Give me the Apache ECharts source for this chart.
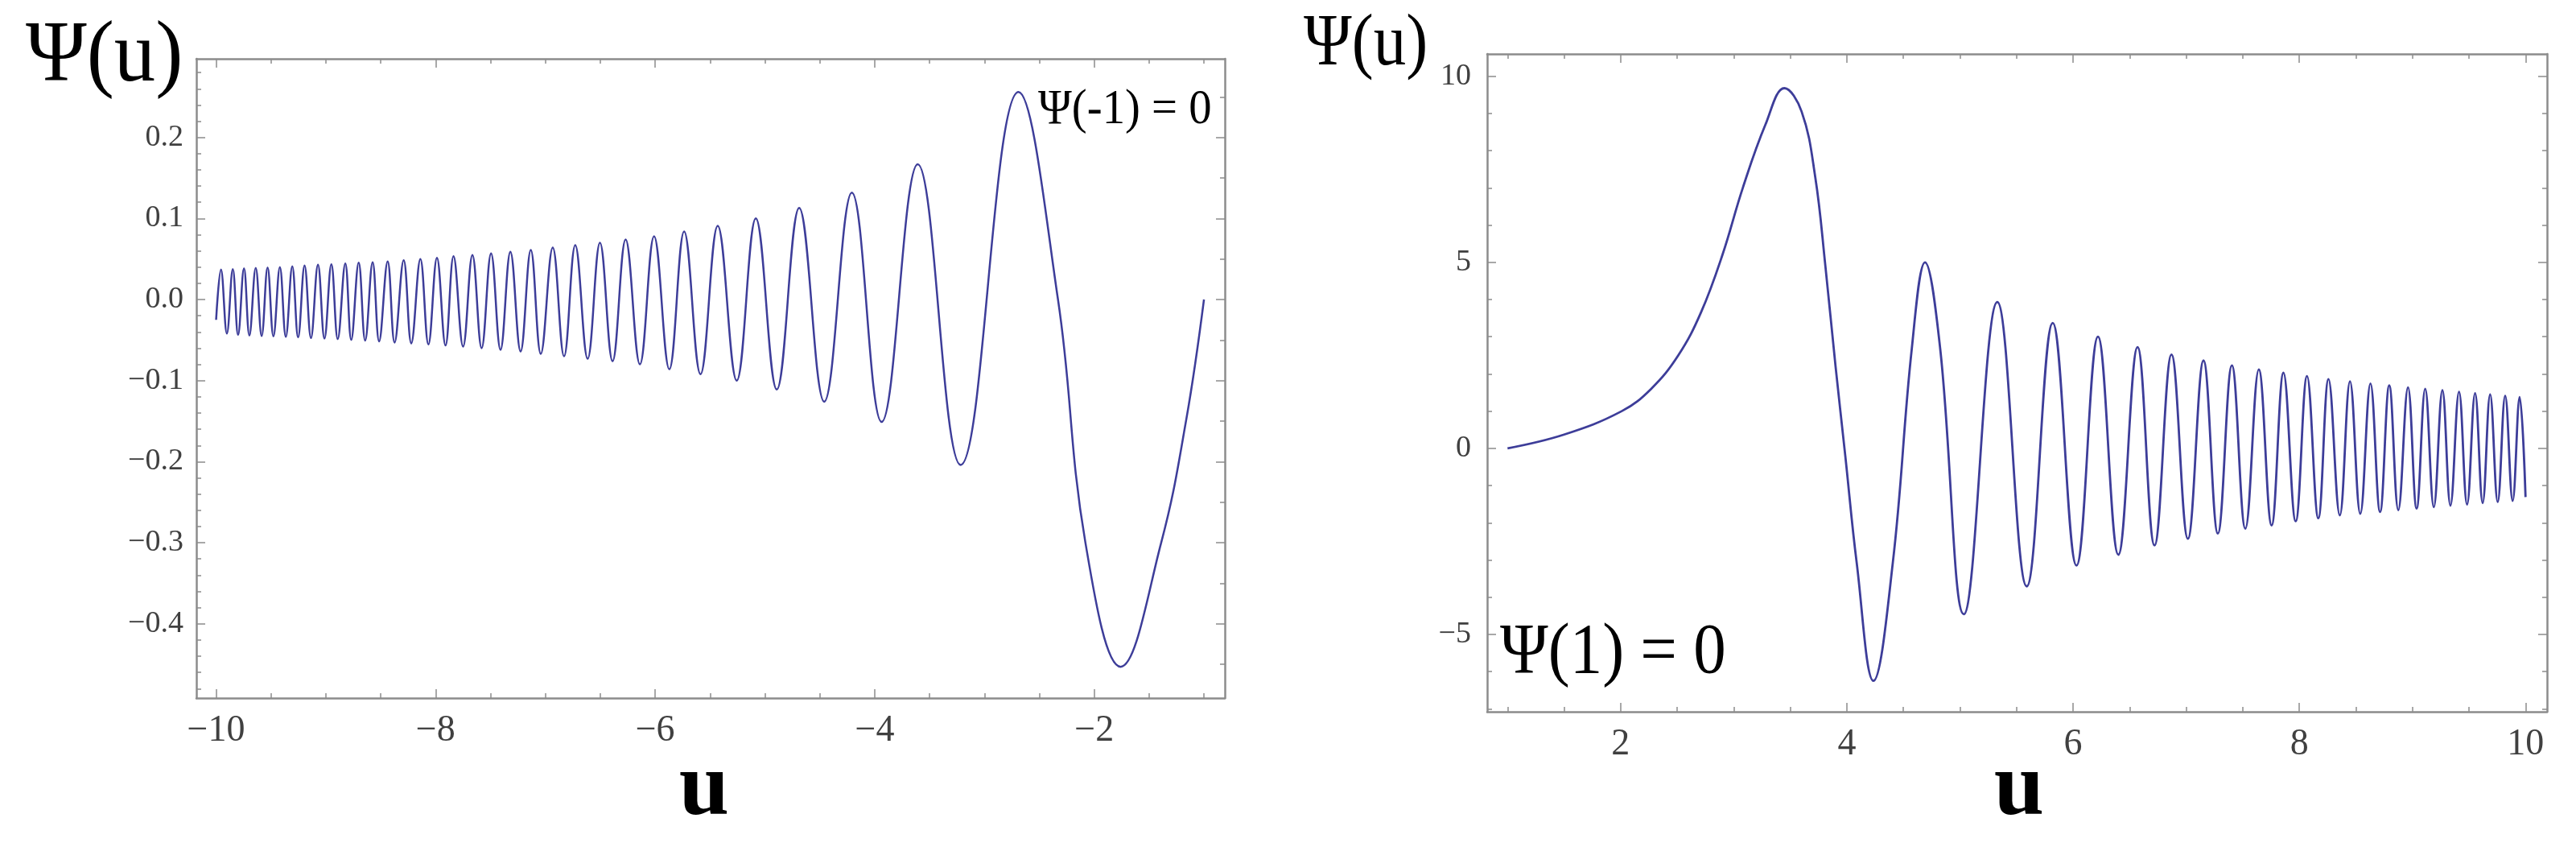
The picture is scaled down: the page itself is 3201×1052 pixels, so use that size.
<!DOCTYPE html>
<html>
<head>
<meta charset="utf-8">
<title>Ψ(u)</title>
<script src="https://cdn.jsdelivr.net/npm/echarts@6/dist/echarts.min.js"></script>
<style>
html, body { margin: 0; padding: 0; background: #fff; }
#chart { width: 3201px; height: 1052px; }
</style>
</head>
<body>
<div id="chart"></div>
<script>
// 左图 Ψ(-1)=0：起点、各个极值点，以及大摆幅上读到的几个点
const leftU = [
  -10.00, -9.956, -9.902, -9.848, -9.800, -9.746, -9.697, -9.639, -9.585, -9.531,
  -9.478, -9.419, -9.365, -9.306, -9.253, -9.194, -9.136, -9.072, -9.013, -8.950,
  -8.892, -8.823, -8.769, -8.701, -8.642, -8.574, -8.515, -8.437, -8.374, -8.291,
  -8.222, -8.139, -8.066, -7.988, -7.910, -7.837, -7.750, -7.665, -7.581, -7.495,
  -7.409, -7.319, -7.226, -7.133, -7.042, -6.933, -6.830, -6.728, -6.615, -6.503,
  -6.388, -6.269, -6.139, -6.010, -5.871, -5.736, -5.587, -5.430, -5.257, -5.083,
  -4.892, -4.688, -4.460, -4.208, -3.937, -3.608, -3.217, -2.690, -2.330, -2.080,
  -1.759, -1.390, -1.160, -1.000
]
const leftPsi = [
  -0.025, 0.037, -0.042, 0.0375, -0.0437, 0.0385, -0.0444, 0.039, -0.045, 0.0395,
  -0.0455, 0.040, -0.046, 0.041, -0.0467, 0.042, -0.0474, 0.043, -0.048, 0.0435,
  -0.0487, 0.0445, -0.0497, 0.0455, -0.0506, 0.046, -0.0516, 0.047, -0.053, 0.0485,
  -0.054, 0.050, -0.0553, 0.0515, -0.0566, 0.0533, -0.058, 0.055, -0.060, 0.057,
  -0.062, 0.059, -0.064, 0.061, -0.067, 0.064, -0.070, 0.067, -0.073, 0.070,
  -0.076, 0.074, -0.080, 0.078, -0.086, 0.084, -0.092, 0.091, -0.100, 0.100,
  -0.111, 0.113, -0.126, 0.132, -0.151, 0.167, -0.204, 0.256, 0.000, -0.300,
  -0.453, -0.300, -0.147, 0.000
]

// 右图 Ψ(1)=0
const rightU = [
  1.00, 1.50, 2.01, 2.27, 2.51, 2.71, 2.90, 3.08, 3.28, 3.448,
  3.60, 3.72, 3.81, 3.90, 3.986, 4.087, 4.235, 4.406, 4.574, 4.691,
  4.825, 5.034, 5.33, 5.59, 5.82, 6.03, 6.22, 6.40, 6.57, 6.72,
  6.87, 7.015, 7.153, 7.28, 7.404, 7.523, 7.642, 7.755, 7.86, 7.968,
  8.068, 8.168, 8.258, 8.358, 8.448, 8.539, 8.629, 8.714, 8.795, 8.875,
  8.961, 9.037, 9.113, 9.189, 9.265, 9.336, 9.412, 9.483, 9.554, 9.621,
  9.687, 9.754, 9.820, 9.886, 9.948, 10.00
]
const rightPsi = [
  0.00, 0.37, 1.00, 1.60, 2.50, 3.65, 5.20, 7.00, 8.70, 9.68,
  9.05, 7.30, 4.90, 2.20, -0.20, -3.08, -6.25, -3.08, 2.68, 5.00,
  2.68, -4.46, 3.93, -3.71, 3.37, -3.15, 3.00, -2.86, 2.72, -2.61,
  2.52, -2.43, 2.36, -2.29, 2.23, -2.16, 2.12, -2.07, 2.03, -1.96,
  1.94, -1.88, 1.86, -1.80, 1.80, -1.76, 1.74, -1.71, 1.69, -1.66,
  1.64, -1.62, 1.60, -1.58, 1.56, -1.54, 1.52, -1.51, 1.48, -1.47,
  1.45, -1.44, 1.41, -1.41, 1.38, -1.31
]

// 刻度
const leftXTicks = [-10, -8, -6, -4, -2]
const leftYTicks = [-0.4, -0.3, -0.2, -0.1, 0, 0.1, 0.2]
const rightXTicks = [2, 4, 6, 8, 10]
const rightYTicks = [-5, 0, 5, 10]

const steps = (from, to, step) => {
  const out = []
  for (let k = 0; from + k * step <= to + 1e-9; k++) out.push(+(from + k * step).toFixed(3))
  return out
}
const leftXMinor = steps(-10, -1, 0.5)
const leftYMinorL = steps(-0.48, 0.28, 0.02)
const leftYMinorR = steps(-0.45, 0.25, 0.05)
const rightXMinor = steps(1, 10, 0.5)
const rightYMinor = steps(-7, 10, 1)

const FRAME = '#8c8c8c'
const LINE = '#3d3d99'
const SERIF = '"Liberation Serif", "Times New Roman", serif'
const minus = s => String(s).replace('-', '\u2212')

// 一个方向上四根轴：主刻度+标签、次刻度、对边主刻度、对边次刻度
const frameAxes = (gridIndex, min, max, posA, posB, majors, minorA, minorB, fmt, fontSize, margin) => {
  const base = { type: 'value', gridIndex, min, max, splitLine: { show: false } }
  const tick = (values, length) => ({
    show: true, inside: true, length, customValues: values,
    lineStyle: { color: FRAME, width: 1.5 }
  })
  const line = { show: true, onZero: false, lineStyle: { color: FRAME, width: 2.5 } }
  const noLine = { show: false, onZero: false }
  return [
    {
      ...base, position: posA, axisLine: line, axisTick: tick(majors, 11),
      axisLabel: {
        show: true, customValues: majors, formatter: fmt, margin,
        fontSize, fontFamily: SERIF, color: '#404040'
      }
    },
    { ...base, position: posA, axisLine: noLine, axisTick: tick(minorA, 6), axisLabel: { show: false } },
    { ...base, position: posB, axisLine: line, axisTick: tick(majors, 11), axisLabel: { show: false } },
    { ...base, position: posB, axisLine: noLine, axisTick: tick(minorB, 6), axisLabel: { show: false } }
  ]
}

// 文字：x,y 为左上角，sx 为横向压缩
const textEl = (text, x, y, size, sx, extra) => ({
  type: 'text', x, y, scaleX: sx, scaleY: 1,
  style: Object.assign({
    text, font: size + 'px ' + SERIF, fill: '#000',
    textVerticalAlign: 'top', verticalAlign: 'top'
  }, extra || {})
})

const chart = echarts.init(document.getElementById('chart'))
const option = {
  animation: false,
  backgroundColor: '#fff',
  grid: [
    { left: 244, top: 73, width: 1278, height: 794 },
    { left: 1848, top: 67, width: 1317, height: 817 }
  ],
  xAxis: [
    ...frameAxes(0, -10.18, -0.81, 'bottom', 'top', leftXTicks, leftXMinor, leftXMinor,
      v => minus(v), 46, 18),
    ...frameAxes(1, 0.82, 10.19, 'bottom', 'top', rightXTicks, rightXMinor, rightXMinor,
      v => minus(v), 46, 18)
  ],
  yAxis: [
    ...frameAxes(0, -0.4916, 0.297, 'left', 'right', leftYTicks, leftYMinorL, leftYMinorR,
      v => minus(Number(v).toFixed(1)), 38, 16),
    ...frameAxes(1, -7.08, 10.6, 'left', 'right', rightYTicks, rightYMinor, rightYMinor,
      v => minus(v), 38, 20)
  ],
  series: [
    {
      type: 'line', xAxisIndex: 0, yAxisIndex: 0,
      data: leftU.map((u, i) => [u, leftPsi[i]]),
      smooth: 0.4, showSymbol: false, silent: true,
      lineStyle: { color: LINE, width: 2.5 }
    },
    {
      type: 'line', xAxisIndex: 4, yAxisIndex: 4,
      data: rightU.map((u, i) => [u, rightPsi[i]]),
      smooth: 0.4, showSymbol: false, silent: true,
      lineStyle: { color: LINE, width: 2.8 }
    }
  ],
  graphic: [
    textEl('Ψ(u)', 32, 18, 108, 0.95),
    textEl('Ψ(u)', 1620, 10, 92, 0.88),
    textEl('Ψ(-1) = 0', 1290, 106, 61, 0.93),
    textEl('Ψ(1) = 0', 1864, 768, 88, 0.92),
    textEl('u', 875, 926, 112, 1, { font: 'bold 112px ' + SERIF, textAlign: 'center', align: 'center' }),
    textEl('u', 2509, 926, 112, 1, { font: 'bold 112px ' + SERIF, textAlign: 'center', align: 'center' })
  ]
}
chart.setOption(option)
</script>
</body>
</html>
